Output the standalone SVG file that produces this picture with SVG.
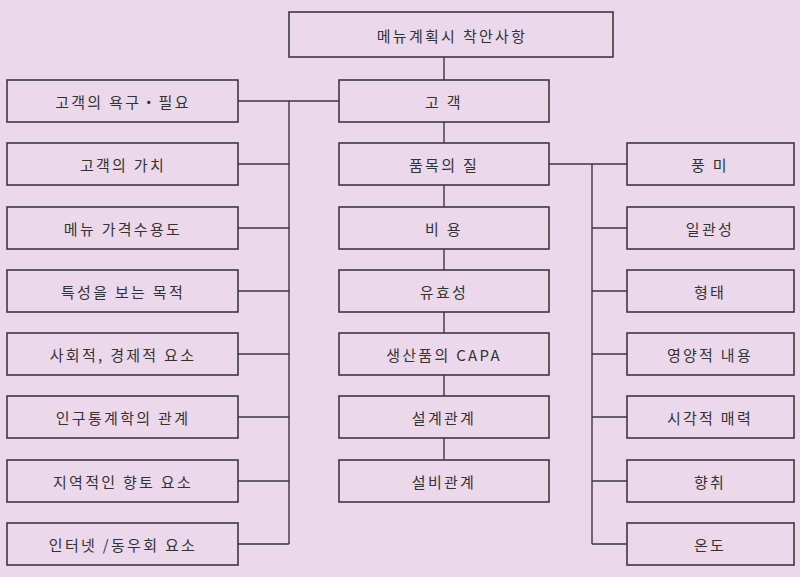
<svg xmlns="http://www.w3.org/2000/svg" width="800" height="577" viewBox="0 0 800 577">
<style>
.b{fill:#ecd8eb;stroke:#3a3a3a;stroke-width:1.6}
.t{font-family:"Noto Sans CJK KR","Liberation Serif",sans-serif;font-size:15px;fill:#333;text-anchor:middle;dominant-baseline:central;letter-spacing:2.3px}
.c{fill:none;stroke:#3a3a3a;stroke-width:1.4}
</style>
<rect width="800" height="577" fill="#ecd8eb"/>
<g id="connectors" class="c">
<path d="M444 57V459"/>
<path d="M289 101V544"/>
<path d="M238 101H339"/>
<path d="M238 164H289M238 228H289M238 291H289M238 354H289M238 417H289M238 481H289M238 544H289"/>
<path d="M592 164V544"/>
<path d="M549 164H627"/>
<path d="M592 228H627M592 291H627M592 354H627M592 417H627M592 481H627M592 544H627"/>
</g>
<g id="title"><rect class="b" x="289" y="12" width="324" height="45"/><text class="t" x="452" y="35">메뉴계획시 착안사항</text></g>
<g id="l1"><rect class="b" x="7" y="80" width="231" height="42"/><text class="t" x="123" y="101">고객의 욕구・필요</text></g>
<g id="l2"><rect class="b" x="7" y="143" width="231" height="42"/><text class="t" x="123" y="164">고객의 가치</text></g>
<g id="l3"><rect class="b" x="7" y="207" width="231" height="42"/><text class="t" x="123" y="228">메뉴 가격수용도</text></g>
<g id="l4"><rect class="b" x="7" y="270" width="231" height="42"/><text class="t" x="123" y="291">특성을 보는 목적</text></g>
<g id="l5"><rect class="b" x="7" y="333" width="231" height="42"/><text class="t" x="123" y="354">사회적, 경제적 요소</text></g>
<g id="l6"><rect class="b" x="7" y="396" width="231" height="42"/><text class="t" x="123" y="417">인구통계학의 관계</text></g>
<g id="l7"><rect class="b" x="7" y="460" width="231" height="42"/><text class="t" x="123" y="481">지역적인 향토 요소</text></g>
<g id="l8"><rect class="b" x="7" y="523" width="231" height="42"/><text class="t" x="123" y="544">인터넷 /동우회 요소</text></g>
<g id="c1"><rect class="b" x="339" y="80" width="210" height="42"/><text class="t" x="444" y="101">고 객</text></g>
<g id="c2"><rect class="b" x="339" y="143" width="210" height="42"/><text class="t" x="444" y="164">품목의 질</text></g>
<g id="c3"><rect class="b" x="339" y="207" width="210" height="42"/><text class="t" x="444" y="228">비 용</text></g>
<g id="c4"><rect class="b" x="339" y="270" width="210" height="42"/><text class="t" x="444" y="291">유효성</text></g>
<g id="c5"><rect class="b" x="339" y="333" width="210" height="42"/><text class="t" x="444" y="354">생산품의 CAPA</text></g>
<g id="c6"><rect class="b" x="339" y="396" width="210" height="42"/><text class="t" x="444" y="417">설계관계</text></g>
<g id="c7"><rect class="b" x="339" y="460" width="210" height="42"/><text class="t" x="444" y="481">설비관계</text></g>
<g id="r1"><rect class="b" x="627" y="143" width="167" height="42"/><text class="t" x="710" y="164">풍 미</text></g>
<g id="r2"><rect class="b" x="627" y="207" width="167" height="42"/><text class="t" x="710" y="228">일관성</text></g>
<g id="r3"><rect class="b" x="627" y="270" width="167" height="42"/><text class="t" x="710" y="291">형태</text></g>
<g id="r4"><rect class="b" x="627" y="333" width="167" height="42"/><text class="t" x="710" y="354">영양적 내용</text></g>
<g id="r5"><rect class="b" x="627" y="396" width="167" height="42"/><text class="t" x="710" y="417">시각적 매력</text></g>
<g id="r6"><rect class="b" x="627" y="460" width="167" height="42"/><text class="t" x="710" y="481">향취</text></g>
<g id="r7"><rect class="b" x="627" y="523" width="167" height="42"/><text class="t" x="710" y="544">온도</text></g>
</svg>
